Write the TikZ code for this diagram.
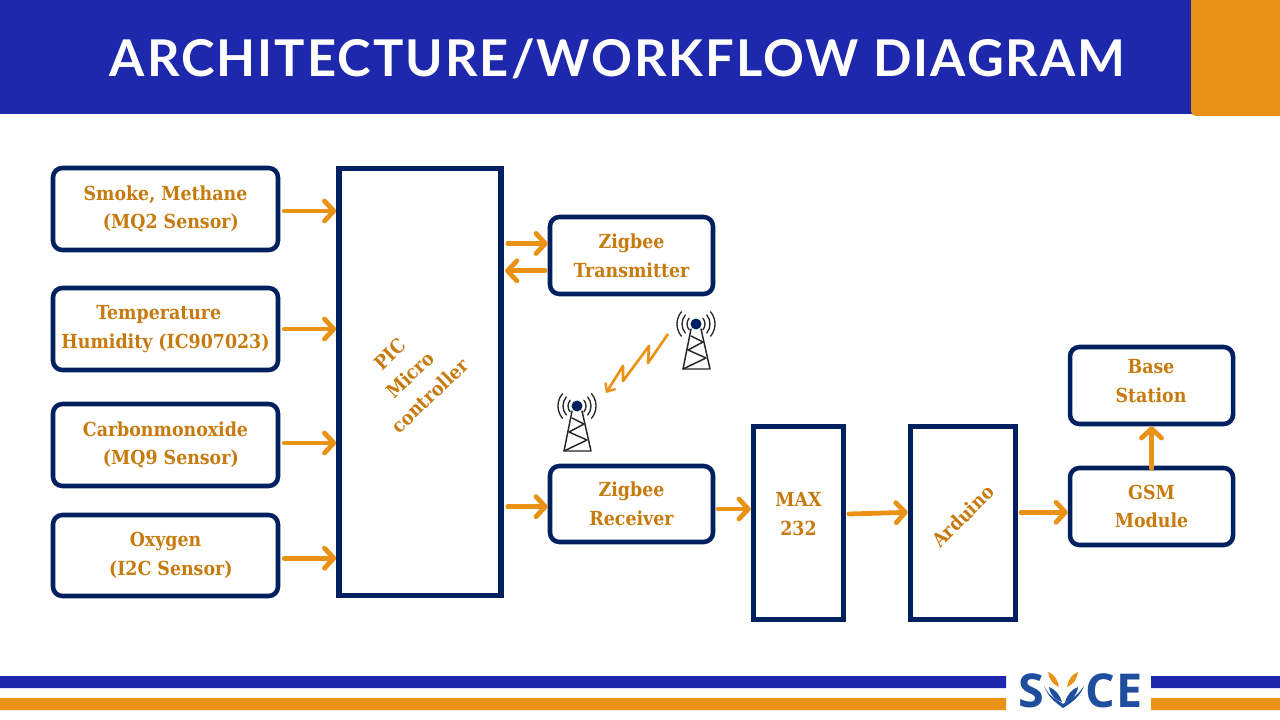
\documentclass[tikz,border=0pt]{standalone}
\usepackage{fontspec}
\usetikzlibrary{arrows.meta,calc}
\setmainfont{DejaVu Serif Condensed}
\newfontfamily\titlefont[LetterSpace=4]{Lato}
\newfontfamily\logofont{Open Sans}
\definecolor{hdrblue}{HTML}{1E28AC}
\definecolor{hdrorange}{HTML}{EA9216}
\definecolor{navy}{HTML}{012060}
\definecolor{txtorange}{HTML}{C77A0E}
\definecolor{logoblue}{HTML}{1F4E9E}
\tikzset{
  x=0.75pt,y=-0.75pt,
  block/.style={draw=navy,line width=3.4pt,rounded corners=7pt,fill=white,align=center,text=txtorange,
     font=\bfseries\fontsize{14.5}{21.5}\selectfont,inner sep=0pt},
  tall/.style={block,rounded corners=0pt,line width=4.2pt},
  freetext/.style={text=txtorange,font=\bfseries\fontsize{14.5}{21.5}\selectfont,align=center,inner sep=0pt},
  flow/.style={draw=hdrorange,line width=3.6pt,-{Straight Barb[length=7pt,width=15pt,line width=3.6pt,round]},line cap=round},
  tw/.style={draw=black!85,line width=1.1pt,line cap=round,line join=round},
  wave/.style={draw=black!85,line width=1pt,line cap=round},
  logotext/.style={text=logoblue,font=\logofont\bfseries\fontsize{35}{35}\selectfont,inner sep=0pt},
}
\newcommand{\blockat}[6]{\node[#1,minimum width=#4*0.75pt,minimum height=#5*0.75pt] (#2) at (#3) {#6};}
\newcommand{\tower}[2]{%
  \begin{scope}[shift={(#1,#2)}]
    \draw[tw] (-5,5) -- (-13,45) -- (14,45) -- (5,5);
    \draw[tw] (-5,12) -- (7,18) -- (-8,26) -- (10,34) -- (-13,45);
    \foreach \r in {9,14,19}{
      \draw[wave] (0,0) ++(140:\r) arc[start angle=140,end angle=220,radius=\r];
      \draw[wave] (0,0) ++(40:\r) arc[start angle=40,end angle=-40,radius=\r];
    }
    \fill[navy] (0,0) circle[radius=5.5];
  \end{scope}}
\begin{document}
\begin{tikzpicture}
\useasboundingbox (0,0) rectangle (1280,720);
\fill[white] (0,0) rectangle (1280,720);
% header
\fill[hdrblue] (0,0) rectangle (1192,114);
\fill[hdrorange] (1191,0) -- (1191,111) .. controls (1191,114) and (1193,116) .. (1196,116) -- (1280,116) -- (1280,0) -- cycle;
\node[text=white,font=\titlefont\bfseries\fontsize{38}{42}\selectfont,anchor=center] (title) at (617.5,59) {ARCHITECTURE/WORKFLOW DIAGRAM};
% footer
\fill[hdrblue] (0,676) rectangle (1006,688) (1151,676) rectangle (1280,688);
\fill[hdrorange] (0,698) rectangle (1006,710) (1151,698) rectangle (1280,710);
% blocks
\blockat{block}{smoke}{165.5,209}{225}{82}{Smoke, Methane\\\hspace*{8pt}(MQ2 Sensor)}
\blockat{block}{temp}{165.5,329}{225}{82}{\hspace*{-10pt}Temperature\\Humidity (IC907023)}
\blockat{block}{co}{165.5,445}{225}{82}{Carbonmonoxide\\\hspace*{8pt}(MQ9 Sensor)}
\blockat{block}{oxy}{165.5,555.5}{225}{81}{Oxygen\\\hspace*{8pt}(I2C Sensor)}
\blockat{tall}{pic}{420,382}{162}{427}{}
\node[freetext,rotate=44] (piclabel) at (410,375) {PIC\\Micro\\controller};
\blockat{block}{ztx}{631.5,255.5}{163}{77}{Zigbee\\Transmitter}
\blockat{block}{zrx}{631.5,504}{163}{76}{Zigbee\\Receiver}
\blockat{tall}{max}{798.5,523}{90}{193}{}
\node[freetext] (maxlabel) at (798.5,514) {MAX\\232};
\blockat{tall}{ard}{963,523}{105}{193}{}
\node[freetext,rotate=45] (ardlabel) at (963,516) {Arduino};
\blockat{block}{gsm}{1151.5,506.5}{163}{77}{GSM\\Module}
\blockat{block}{base}{1151.5,385.5}{163}{77}{}
\node[freetext] (baselabel) at (1151,381) {Base\\Station};
% connectors
\draw[flow] ([yshift=-1.5pt,xshift=3pt]smoke.east) -- ([yshift=-1.5pt]smoke.east -| pic.west);
\draw[flow] ([xshift=3pt]temp.east) -- (temp.east -| pic.west);
\draw[flow] ([yshift=1.5pt,xshift=3pt]co.east) -- ([yshift=1.5pt]co.east -| pic.west);
\draw[flow] ([yshift=-2pt,xshift=3pt]oxy.east) -- ([yshift=-2pt]oxy.east -| pic.west);
\draw[flow] ([yshift=9pt,xshift=3pt]pic.east |- ztx.east) -- ([yshift=9pt]ztx.west);
\draw[flow] ([yshift=-11.5pt,xshift=-2pt]ztx.west) -- ([yshift=-11.5pt,xshift=1pt]pic.east |- ztx.west);
\draw[flow] ([yshift=-2pt,xshift=3pt]pic.east |- zrx.west) -- ([yshift=-2pt]zrx.west);
\draw[flow] ([yshift=-3.75pt,xshift=2pt]zrx.east) -- ([yshift=-3.75pt]zrx.east -| max.west);
\draw[flow] ([yshift=6.75pt,xshift=2pt]max.east) -- ([yshift=8pt]max.east -| ard.west);
\draw[flow] ([yshift=8pt,xshift=2pt]ard.east) -- ([yshift=8pt]ard.east -| gsm.west);
\draw[flow] ([yshift=-2pt]gsm.north) -- (base.south);
% wireless
\tower{696}{324}
\tower{577}{406}
\coordinate (boltstart) at (668,334);
\coordinate (boltend) at (606,393);
\draw[draw=hdrorange,line width=2pt,-{Straight Barb[length=5pt,width=9pt,line width=1.8pt]},line join=round] (boltstart) -- (648,363) -- (649,346) -- (623,381) -- (623,366) -- (boltend);
% logo
\node[logotext] (logos) at (1031,691) {S};
\node[logotext] (logoc) at (1100,691) {C};
\node[logotext] (logoe) at (1130,691) {E};
\fill[logoblue] (1044,686) .. controls (1048,697) and (1056,703) .. (1063,708) .. controls (1071,703) and (1080,697) .. (1084,686) .. controls (1077,697) and (1068,700) .. (1063,704) .. controls (1058,700) and (1049,697) .. (1044,686) -- cycle;
\fill[logoblue] (1049,687) .. controls (1055,689) and (1060,695) .. (1062,702) .. controls (1055,700) and (1050,695) .. (1049,687) -- cycle;
\fill[logoblue] (1078,687) .. controls (1072,689) and (1067,695) .. (1065,702) .. controls (1072,700) and (1077,695) .. (1078,687) -- cycle;
\fill[hdrorange] (1048,672) .. controls (1054,674) and (1058,680) .. (1059,687) .. controls (1053,685) and (1049,679) .. (1048,672) -- cycle;
\fill[hdrorange] (1078,672) .. controls (1072,674) and (1068,680) .. (1067,687) .. controls (1073,685) and (1077,679) .. (1078,672) -- cycle;
\end{tikzpicture}
\end{document}
